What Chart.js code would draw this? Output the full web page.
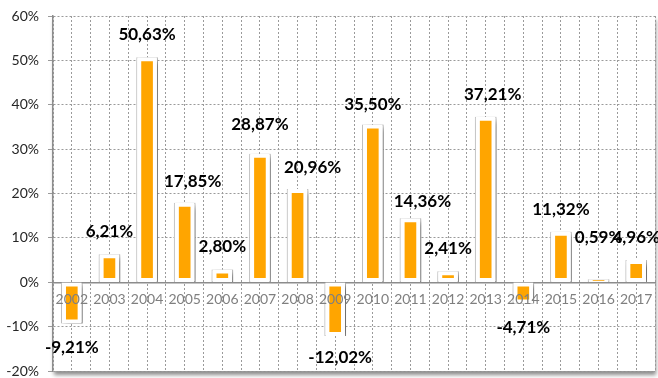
<!DOCTYPE html>
<html>
<head>
<meta charset="utf-8">
<script src="https://cdn.jsdelivr.net/npm/chart.js@4/dist/chart.umd.min.js"></script>
<style>
  html, body { margin: 0; padding: 0; background: #ffffff; }
  #wrap { width: 658px; height: 378px; position: relative; }
</style>
</head>
<body>
<div id="wrap"><canvas id="c" width="658" height="378"></canvas></div>
<script>
const years = ['2002','2003','2004','2005','2006','2007','2008','2009','2010','2011','2012','2013','2014','2015','2016','2017'];
const returns = [-9.21, 6.21, 50.63, 17.85, 2.80, 28.87, 20.96, -12.02, 35.50, 14.36, 2.41, 37.21, -4.71, 11.32, 0.59, 4.96];
const yTicks = [-20, -10, 0, 10, 20, 30, 40, 50, 60];

// label placement tweaks (px) relative to the default spot: [dx, dy]
const labelShift = { 3: [8, 1], 5: [0, -7], 6: [15, 1], 7: [5, -2], 8: [0, 2.5], 9: [12, 6], 11: [7, 0], 14: [0, -19] };

const fmt = v => v.toFixed(2).replace('.', ',') + '%';
const FONT = 'Lato, "Open Sans", "DejaVu Sans", sans-serif';

const areaShadow = {
  id: 'areaShadow',
  beforeDraw(chart) {
    const { ctx, chartArea: a } = chart;
    ctx.save();
    ctx.shadowColor = 'rgba(0,0,0,0.45)';
    ctx.shadowBlur = 4;
    ctx.shadowOffsetX = 1;
    ctx.shadowOffsetY = 4;
    ctx.fillStyle = '#ffffff';
    ctx.fillRect(a.left, a.top, a.right - a.left, a.bottom - a.top);
    ctx.restore();
  }
};

const boxShadow = {
  id: 'boxShadow',
  beforeDatasetDraw(chart, args) {
    if (args.index === 0) {
      const ctx = chart.ctx;
      ctx.save();
      ctx.shadowColor = 'rgba(0,0,0,0.5)';
      ctx.shadowBlur = 6;
      ctx.shadowOffsetX = 4;
      ctx.shadowOffsetY = 3;
    }
  },
  afterDatasetDraw(chart, args) {
    if (args.index === 0) chart.ctx.restore();
  }
};

const valueLabels = {
  id: 'valueLabels',
  afterDraw(chart) {
    const ctx = chart.ctx;
    const meta = chart.getDatasetMeta(1);
    ctx.save();
    ctx.font = 'bold 17px ' + FONT;
    ctx.fillStyle = '#000000';
    ctx.textAlign = 'center';
    ctx.textBaseline = 'middle';
    meta.data.forEach((bar, i) => {
      const v = returns[i];
      const sh = labelShift[i] || [0, 0];
      const y = v >= 0 ? bar.y - 23 : bar.y + 24;
      ctx.fillText(fmt(v), bar.x + sh[0], y + sh[1]);
    });
    ctx.restore();
  }
};

const zeroH = s => { s.height = 0; s.paddingLeft = 0; s.paddingRight = 0; };

new Chart(document.getElementById('c'), {
  type: 'bar',
  data: {
    labels: years,
    datasets: [
      { label: 'box', data: returns, backgroundColor: '#ffffff', borderColor: '#c4c4c4', borderWidth: 1,
        borderSkipped: false, barThickness: 21, grouped: false, order: 2, xAxisID: 'x' },
      { label: 'value', data: returns, backgroundColor: '#FFA500', borderColor: '#ffffff', borderWidth: 4,
        borderSkipped: false, barThickness: 19, grouped: false, order: 1, xAxisID: 'x' }
    ]
  },
  options: {
    responsive: false,
    animation: false,
    devicePixelRatio: 1,
    layout: { padding: { left: 0, top: 16, right: 3, bottom: 7 } },
    plugins: { legend: { display: false }, tooltip: { enabled: false } },
    scales: {
      x: {
        type: 'category', position: 'bottom', offset: true,
        grid: { offset: true, color: '#9a9a9a', lineWidth: 1, drawTicks: false },
        border: { display: false, dash: [2, 2] },
        ticks: { display: false },
        afterFit: zeroH
      },
      xc: {
        type: 'category', axis: 'x', position: 'bottom', labels: years, offset: true,
        grid: { offset: false, color: '#9a9a9a', lineWidth: 1, drawTicks: false },
        border: { display: false, dash: [2, 2] },
        ticks: { display: false },
        afterFit: zeroH
      },
      xl: {
        type: 'category', axis: 'x', position: { y: 0 }, labels: years, offset: true,
        grid: { display: false, drawTicks: false },
        border: { display: true, color: '#8c8c8c', width: 1.5 },
        ticks: { z: 1, padding: 9, color: '#7f7f7f', font: { family: FONT, size: 14 }, maxRotation: 0, autoSkip: false },
        afterFit: zeroH
      },
      y: {
        type: 'linear',
        min: yTicks[0],
        max: yTicks[yTicks.length - 1],
        afterBuildTicks(scale) { scale.ticks = yTicks.map(v => ({ value: v })); },
        afterFit(s) { s.width = 53; s.paddingTop = 0; s.paddingBottom = 0; },
        grid: { color: '#9a9a9a', lineWidth: 1, drawTicks: true, tickLength: 5, tickColor: '#9a9a9a' },
        border: { display: true, color: '#8c8c8c', width: 1.5, dash: [2, 2] },
        ticks: { padding: 9, color: '#262626', font: { family: FONT, size: 14 }, callback: v => v + '%' }
      }
    }
  },
  plugins: [areaShadow, boxShadow, valueLabels]
});
</script>
</body>
</html>
